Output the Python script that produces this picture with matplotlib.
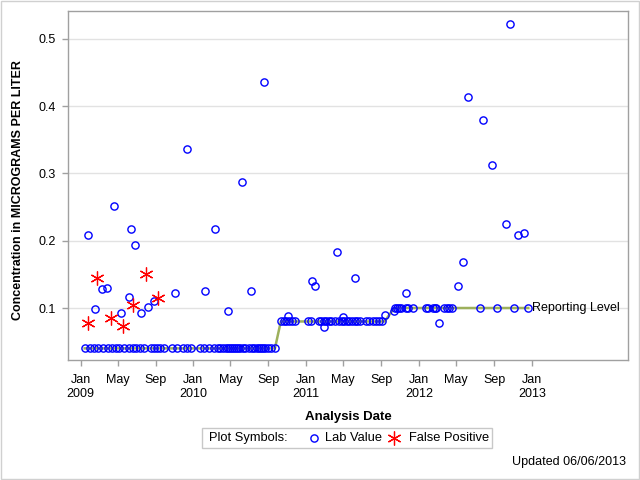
import matplotlib
matplotlib.use('Agg')
import matplotlib.pyplot as plt
from matplotlib.lines import Line2D
from matplotlib.patches import Rectangle
import numpy as np
import pandas as pd

plt.rcParams['font.family'] = ['Liberation Sans', 'DejaVu Sans']

# Reporting level changes
rl_change_dates = ['2009-01-01', '2010-10-01', '2011-10-01']
rl_change_values = [0.04, 0.08, 0.10]

# Non-detects (plotted at reporting level)
nd_dates = [
    '2009-01-14', '2009-01-30', '2009-02-12', '2009-02-25', '2009-03-13', '2009-03-29',
    '2009-04-12', '2009-04-25', '2009-05-04', '2009-05-20', '2009-06-06', '2009-06-19',
    '2009-06-28', '2009-07-11', '2009-07-24', '2009-08-16', '2009-08-26', '2009-09-04',
    '2009-09-14', '2009-09-27', '2009-10-23', '2009-11-08', '2009-11-27', '2009-12-10',
    '2009-12-23', '2010-01-21', '2010-02-03', '2010-02-19', '2010-03-08', '2010-03-21',
    '2010-03-28', '2010-04-06', '2010-04-15', '2010-04-22', '2010-04-28', '2010-05-05',
    '2010-05-11', '2010-05-18', '2010-05-24', '2010-05-31', '2010-06-09', '2010-06-16',
    '2010-06-29', '2010-07-09', '2010-07-17', '2010-07-25', '2010-07-31', '2010-08-07',
    '2010-08-13', '2010-08-20', '2010-08-30', '2010-09-09', '2010-09-22',
    '2010-10-11', '2010-10-21', '2010-10-29', '2010-11-07', '2010-11-16', '2010-11-25',
    '2011-01-07', '2011-01-18', '2011-02-11', '2011-02-19', '2011-02-27', '2011-03-07',
    '2011-03-15', '2011-03-24', '2011-04-03', '2011-04-19', '2011-04-28', '2011-05-05',
    '2011-05-13', '2011-05-21', '2011-05-30', '2011-06-07', '2011-06-14', '2011-06-23',
    '2011-07-14', '2011-07-23', '2011-08-05', '2011-08-16', '2011-08-26', '2011-09-04',
    '2011-10-15', '2011-10-21', '2011-10-29', '2011-11-05', '2011-11-19', '2011-11-27',
    '2011-12-13', '2012-01-23', '2012-01-31', '2012-02-16', '2012-02-22', '2012-02-27',
    '2012-03-22', '2012-03-31', '2012-04-08', '2012-04-16', '2012-07-17', '2012-09-10',
    '2012-11-04', '2012-12-20',
]

# Detected lab values
det_dates = [
    '2009-01-25', '2009-02-16', '2009-03-10', '2009-03-27', '2009-04-18', '2009-05-11',
    '2009-06-07', '2009-06-12', '2009-06-26', '2009-07-15', '2009-08-07', '2009-08-27',
    '2009-11-02', '2009-12-11', '2010-02-07', '2010-03-13', '2010-04-23', '2010-06-07',
    '2010-07-06', '2010-08-18', '2010-11-03', '2011-01-20', '2011-01-30', '2011-02-27',
    '2011-04-10', '2011-04-30', '2011-06-07', '2011-09-12', '2011-10-13', '2011-11-21',
    '2012-03-06', '2012-05-07', '2012-05-24', '2012-06-08', '2012-07-26', '2012-08-24',
    '2012-10-09', '2012-10-21', '2012-11-17', '2012-12-07',
]
det_values = [
    0.208, 0.098, 0.128, 0.130, 0.251, 0.092,
    0.116, 0.217, 0.193, 0.092, 0.101, 0.111,
    0.122, 0.336, 0.125, 0.218, 0.095, 0.287,
    0.126, 0.436, 0.088, 0.140, 0.133, 0.072,
    0.184, 0.087, 0.144, 0.089, 0.095, 0.123,
    0.077, 0.133, 0.168, 0.414, 0.379, 0.312,
    0.225, 0.523, 0.208, 0.211,
]

# False positives
fp_dates = ['2009-01-25', '2009-02-23', '2009-04-08', '2009-05-17', '2009-06-20',
            '2009-08-01', '2009-09-07']
fp_values = [0.077, 0.145, 0.085, 0.073, 0.105, 0.150, 0.115]

tick_dates = ['2009-01-01', '2009-05-01', '2009-09-01', '2010-01-01', '2010-05-01',
              '2010-09-01', '2011-01-01', '2011-05-01', '2011-09-01', '2012-01-01',
              '2012-05-01', '2012-09-01', '2013-01-01']
tick_labels = ['Jan\n2009', 'May', 'Sep', 'Jan\n2010', 'May', 'Sep', 'Jan\n2011', 'May',
               'Sep', 'Jan\n2012', 'May', 'Sep', 'Jan\n2013']

# ---------------------------------------------------------------
rl_d = pd.to_datetime(rl_change_dates)
def rl_of(dates):
    idx = np.searchsorted(rl_d.values, pd.to_datetime(dates).values, side='right') - 1
    return np.array(rl_change_values)[idx]

nd = pd.to_datetime(nd_dates)
det = pd.to_datetime(det_dates)
fp = pd.to_datetime(fp_dates)

all_dates = pd.to_datetime(list(nd_dates) + list(det_dates) + list(fp_dates)).sort_values().unique()
all_rl = rl_of(all_dates)

FS = 9
fig = plt.figure(figsize=(6.4, 4.8), dpi=100)
ax = fig.add_axes([68.3 / 640, 1 - 360 / 480, (628.3 - 68.3) / 640, (360 - 11) / 480])

green = '#9DB05C'
ax.plot(all_dates, all_rl, color=green, lw=1.8, zorder=2, solid_joinstyle='round')
ax.plot(nd, rl_of(nd), linestyle='none', marker='o', ms=5.2, mfc='none', mec='#0000FF', mew=1.0, zorder=3)
ax.plot(det, det_values, linestyle='none', marker='o', ms=5.2, mfc='none', mec='#0000FF', mew=1.0, zorder=3)
ax.plot(fp, fp_values, linestyle='none', marker=(6, 2, 0), ms=10, mec='#FF0000', color='#FF0000', mew=0.9, zorder=3)

ax.annotate('Reporting Level', xy=(all_dates[-1], all_rl[-1]), xytext=(2.5, 0),
            textcoords='offset points', va='center', ha='left', fontsize=FS, color='#000000')

ax.set_xlim(pd.Timestamp('2008-11-22'), pd.Timestamp('2013-11-09'))
ax.set_ylim(0.0227, 0.5416)
ax.set_yticks([0.1, 0.2, 0.3, 0.4, 0.5])
ax.set_yticklabels(['0.1', '0.2', '0.3', '0.4', '0.5'])
ax.set_xticks(pd.to_datetime(tick_dates))
ax.set_xticklabels(tick_labels, linespacing=1.25)
ax.tick_params(axis='both', direction='out', length=4, width=1, color='#A0A0A0',
               labelsize=FS)
ax.tick_params(axis='x', pad=6)
ax.tick_params(axis='y', pad=5)
ax.grid(axis='y', color='#E2E2E2', lw=1)
ax.set_axisbelow(True)
for s in ax.spines.values():
    s.set_color('#A0A0A0')
    s.set_linewidth(1)

ax.set_xlabel('Analysis Date', fontsize=FS + 0.5, fontweight='bold', labelpad=8)
fig.text(18 / 640, 1 - 190 / 480, 'Concentration in MICROGRAMS PER LITER', rotation=90,
         fontsize=FS, fontweight='bold', ha='center', va='center')

# Legend (manual)
lx0, lx1, ly0, ly1 = 202, 492, 428, 448
fig.add_artist(Rectangle((lx0 / 640, 1 - ly1 / 480), (lx1 - lx0) / 640, (ly1 - ly0) / 480,
                         transform=fig.transFigure, fill=False, ec='#C8C8C8', lw=1))
ly = 1 - 438 / 480
fig.text(209 / 640, ly, 'Plot Symbols:', fontsize=FS + 0.3, ha='left', va='center')
fig.add_artist(Line2D([314 / 640], [ly], transform=fig.transFigure, marker='o', ms=5.2,
                      mfc='none', mec='#0000FF', mew=1.0, linestyle='none'))
fig.text(325 / 640, ly, 'Lab Value', fontsize=FS + 0.3, ha='left', va='center')
fig.add_artist(Line2D([394 / 640], [ly], transform=fig.transFigure, marker=(6, 2, 0), ms=10,
                      mec='#FF0000', color='#FF0000', mew=0.9, linestyle='none'))
fig.text(409 / 640, ly, 'False Positive', fontsize=FS + 0.3, ha='left', va='center')

fig.text(626 / 640, 1 - 462 / 480, 'Updated 06/06/2013', fontsize=FS, ha='right', va='center')

# outer border
fig.add_artist(Rectangle((0.5 / 640, 1.5 / 480), 638.5 / 640, 477.5 / 480,
                         transform=fig.transFigure, fill=False, ec='#D0D0D0', lw=1))

fig.savefig('out.png', dpi=100)
